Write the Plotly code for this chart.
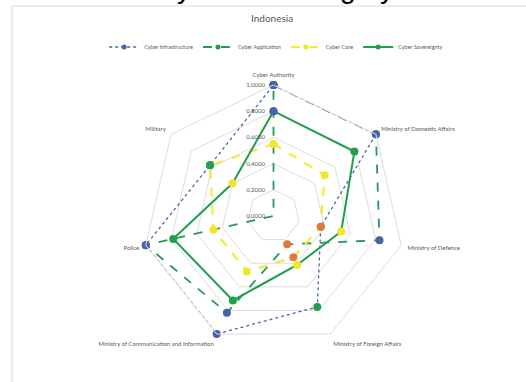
import plotly.graph_objects as go

W, H = 526, 382

categories = ["Cyber Authority", "Ministry of Domestic Affairs", "Ministry of Defence",
              "Ministry of Foreign Affairs", "Ministry of Communication and Information",
              "Police", "Military"]

infrastructure = [1.0, 1.0, 0.37, 0.77, 1.0, 1.0, 0.62]
application = [1.0, 1.0, 0.83, 0.24, 0.82, 1.0, 0.0]
core = [0.55, 0.50, 0.37, 0.35, 0.47, 0.47, 0.62]
sovereignty = [0.80, 0.79, 0.53, 0.415, 0.715, 0.785, 0.40]

# per-point marker colour classes as drawn in the reference
infrastructure_marks = ["blue", "blue", "orange", "green", "blue", "blue", "green"]
application_marks = ["blue", "blue", "blue", "orange", "blue", "blue", "red"]
core_marks = ["yellow", "yellow", "orange", "orange", "yellow", "yellow", "green"]
sovereignty_marks = ["blue", "green", "yellow", "yellow", "green", "green", "yellow"]

radial_ticks = [0, 0.2, 0.4, 0.6, 0.8, 1.0]
radial_ticktext = ["0,0000", "0,2000", "0,4000", "0,6000", "0,8000", "1,0000"]

palette = {"blue": "#4a62aa", "green": "#1fa04c", "yellow": "#f2e62c",
           "orange": "#dd7a3c", "red": "#e5141c"}

series = [
    ("Cyber Infrastructure", infrastructure, infrastructure_marks, "#4a66a8", "dot", 1.3, "blue"),
    ("Cyber Application", application, application_marks, "#24995a", "dash", 1.8, "green"),
    ("Cyber Core", core, core_marks, "#f4ea3a", "dash", 2.2, "yellow"),
    ("Cyber Sovereignty", sovereignty, sovereignty_marks, "#1f9e4c", "solid", 2.0, "green"),
]

fig = go.Figure()
for name, vals, marks, lc, dash, lw, legcol in series:
    fig.add_trace(go.Scatterpolar(
        r=vals + vals[:1], theta=categories + categories[:1],
        mode="lines+markers", name=name, showlegend=False,
        line=dict(color=lc, dash=dash, width=lw),
        marker=dict(size=8, color=[palette[m] for m in marks + marks[:1]],
                    line=dict(width=0)),
        hoverinfo="skip"))
for name, vals, marks, lc, dash, lw, legcol in series:
    fig.add_trace(go.Scatterpolar(
        r=[None], theta=[categories[0]], mode="lines+markers", name=name,
        line=dict(color=lc, dash=dash, width=lw),
        marker=dict(size=5, color=palette[legcol])))

cx, cy, R = 273.5, 216, 131
fig.update_layout(
    width=W, height=H,
    margin=dict(l=0, r=0, t=0, b=0),
    paper_bgcolor="white", plot_bgcolor="white",
    font=dict(family="Lato, Open Sans, sans-serif", size=6, color="#595959"),
    polar=dict(
        domain=dict(x=[(cx - R) / W, (cx + R) / W], y=[1 - (cy + R) / H, 1 - (cy - R) / H]),
        bgcolor="white",
        gridshape="linear",
        angularaxis=dict(rotation=90, direction="clockwise", showgrid=False,
                         linecolor="#dcdcdc", linewidth=1, ticks="outside", ticklen=5,
                         tickcolor="rgba(0,0,0,0)",
                         tickfont=dict(size=6, color="#595959")),
        radialaxis=dict(range=[0, 1], tickvals=radial_ticks, ticktext=radial_ticktext,
                        angle=90, side="counterclockwise", tickangle=90,
                        showline=False, ticks="outside", ticklen=6,
                        tickcolor="rgba(0,0,0,0)", gridcolor="#dcdcdc", gridwidth=1,
                        tickfont=dict(size=6, color="#595959")),
    ),
    legend=dict(orientation="h", x=0.525, xanchor="center", y=1 - 47 / H, yanchor="middle",
                font=dict(size=5.5, color="#595959"), itemwidth=30, bgcolor="rgba(0,0,0,0)"),
    annotations=[
        dict(text="Indonesia", x=272 / W, y=1 - 18 / H, xref="paper", yref="paper",
             xanchor="center", yanchor="middle",
             showarrow=False, font=dict(size=10, color="#595959")),
        dict(text="Cyber Sovereignty", x=275 / W, y=1 - 6 / H, xref="paper", yref="paper",
             xanchor="center", yanchor="bottom", showarrow=False,
             font=dict(family="Liberation Sans, sans-serif", size=29, color="black")),
    ],
    shapes=[dict(type="rect", xref="paper", yref="paper", x0=12 / W, x1=1.05,
                 y0=-0.05, y1=1 - 6 / H, line=dict(color="#d9d9d9", width=1))],
)

fig.write_html("out.html", config={"displayModeBar": False},
               post_script="document.body.style.margin='0';")
